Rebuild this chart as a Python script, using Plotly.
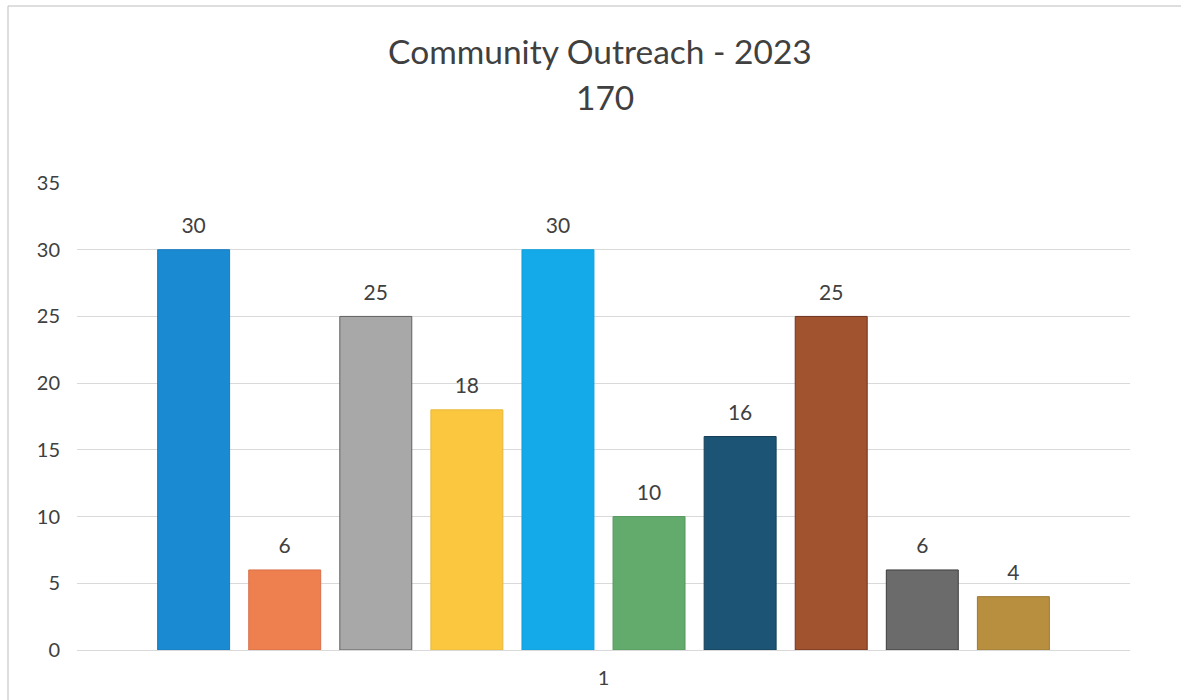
import plotly.graph_objects as go

categories = ["1"]
series_names = ["S1", "S2", "S3", "S4", "S5", "S6", "S7", "S8", "S9", "S10"]
values = [30, 6, 25, 18, 30, 10, 16, 25, 6, 4]
colors = ["#1A8AD2", "#EE7F4E", "#A8A8A8", "#FBC73E", "#14A9E8",
          "#62AB6C", "#1B5475", "#A1522F", "#6B6B6B", "#B88F3F"]
outlines = ["#1A7CBE", "#D8704A", "#606060", "#E8B83A", "#12A0DC",
            "#56985F", "#163F57", "#6A3320", "#3C3C3C", "#9C7835"]
title_text = "Community Outreach - 2023"
total_text = "170"
y_ticks = [0, 5, 10, 15, 20, 25, 30, 35]

FONT = "Lato"
TXT = "#404040"

fig = go.Figure()
for name, v, c, oc in zip(series_names, values, colors, outlines):
    fig.add_trace(go.Bar(
        name=name, x=categories, y=[v],
        marker=dict(color=c, line=dict(color=oc, width=1)),
        text=[f"<span style='font-size:21px'>{v}</span><br> "],
        textposition="outside", cliponaxis=False,
        textfont=dict(family=FONT, size=9, color=TXT),
    ))

fig.update_layout(
    width=1181, height=700,
    paper_bgcolor="white", plot_bgcolor="white",
    barmode="group", bargap=0.135, bargroupgap=0.21,
    showlegend=False,
    margin=dict(l=77, r=51, t=183, b=50),
    title=dict(text=title_text, x=0.508, xanchor="center", y=0.926, yanchor="middle",
               font=dict(family=FONT, size=33.5, color=TXT)),
    font=dict(family=FONT, color=TXT),
)
fig.add_annotation(text=total_text, xref="paper", yref="paper", x=0.501, y=(650 - 97) / 467,
                   xanchor="center", yanchor="middle", showarrow=False,
                   font=dict(family=FONT, size=33.5, color=TXT))
fig.update_yaxes(range=[0, 35], tickvals=y_ticks, showgrid=True, gridcolor="#D9D9D9", gridwidth=1,
                 zeroline=True, zerolinecolor="#D9D9D9", zerolinewidth=1, showline=False,
                 ticks="", ticklabelstandoff=16, tickfont=dict(family=FONT, size=20, color=TXT))
fig.update_xaxes(showline=False, ticks="", ticklabelstandoff=14,
                 tickfont=dict(family=FONT, size=20, color=TXT))
# chart border
fig.add_shape(type="rect", xref="paper", yref="paper",
              x0=(8 - 77) / 1053, x1=(1190 - 77) / 1053,
              y0=(650 - 710) / 467, y1=(650 - 6) / 467,
              line=dict(color="#BDBDBD", width=1), layer="below")

fig.write_html("out.html", config={"displayModeBar": False},
               post_script="document.body.style.margin='0px';")
